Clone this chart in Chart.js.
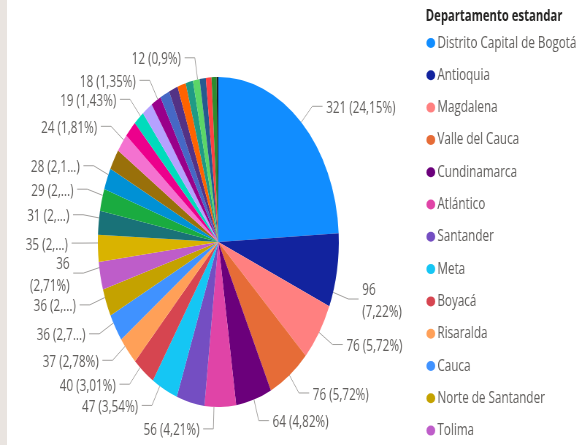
<!DOCTYPE html>
<html>
<head>
<meta charset="utf-8">
<script src="https://cdn.jsdelivr.net/npm/chart.js@4.4.0/dist/chart.umd.min.js"></script>
<style>
  html, body { margin: 0; padding: 0; background: #fff; overflow: hidden; }
  /* the reference is squeezed horizontally, so the whole chart is drawn wide and scaled */
  #wrap { position: absolute; left: 0; top: 0; width: 797px; height: 445px; transform: scaleX(0.7302); transform-origin: 0 0; }
  #strip { position: absolute; left: 0; top: 0; width: 7px; height: 445px; background: #e9e4e0; }
</style>
</head>
<body>
<div id="wrap"><canvas id="pie" width="797" height="445"></canvas></div>
<div id="strip"></div>
<script>
const departamentos = [
    'Distrito Capital de Bogotá', 'Antioquia', 'Magdalena', 'Valle del Cauca', 'Cundinamarca',
    'Atlántico', 'Santander', 'Meta', 'Boyacá', 'Risaralda', 'Cauca', 'Norte de Santander', 'Tolima',
    'Bolívar', 'Caldas', 'Huila', 'Nariño', 'Quindío', 'Córdoba', 'Cesar', 'Casanare', 'Sucre',
    'La Guajira', 'Caquetá', 'Putumayo', 'Chocó', 'Arauca', 'San Andrés', 'Amazonas', 'Guaviare',
    'Vichada', 'Vaupés'
];
const registros = [
    321, 96, 76, 76, 64,
    56, 50, 47, 40, 37, 36, 36, 36,
    35, 31, 29, 28, 27, 24, 22, 19, 19,
    18, 17, 16, 15, 13, 12, 11, 10,
    9, 3
];
const colores = [
    '#118DFF', '#12239E', '#FF8080', '#E66C37', '#6B007B',
    '#E044A7', '#744EC2', '#15C6F4', '#D64550', '#FFA058', '#4092FF', '#C4A200', '#BE5DC9',
    '#D9B300', '#197278', '#1AAB40', '#0091D5', '#99700A', '#F472D0', '#EC008C', '#00DBBC', '#B5A1FF',
    '#99008A', '#4668C5', '#533285', '#FF6300', '#1F9A85', '#5BD667', '#255A8F', '#FF4141',
    '#2E8B2E', '#1E1E1E'
];
// data labels as shown on the chart (null = hidden by Power BI)
const etiquetas = [
    '321 (24,15%)', '96\n(7,22%)', '76 (5,72%)', '76 (5,72%)', '64 (4,82%)',
    '56 (4,21%)', null, '47 (3,54%)', '40 (3,01%)', '37 (2,78%)', '36 (2,7...)', '36 (2,...)', '36\n(2,71%)',
    '35 (2,...)', '31 (2,...)', '29 (2,...)', '28 (2,1...)', null, '24 (1,81%)', null, '19 (1,43%)', null,
    '18 (1,35%)', null, null, null, null, '12 (0,9%)', null, null,
    null, null
];
const tituloLeyenda = 'Departamento estandar';
const itemsLeyenda = 13;

const fuente = "'Segoe UI', 'Open Sans', sans-serif";

// Outside labels with leader lines
const etiquetasPlugin = {
    id: 'etiquetas',
    afterDatasetsDraw(chart) {
        const ctx = chart.ctx;
        const arcs = chart.getDatasetMeta(0).data;
        const lados = { '1': [], '-1': [] };
        arcs.forEach((arc, i) => {
            if (!etiquetas[i]) return;
            const lineas = etiquetas[i].split('\n');
            const mid = (arc.startAngle + arc.endAngle) / 2;
            const lado = Math.cos(mid) > 0.05 ? 1 : -1;
            // Power BI hooks most leaders a bit past the middle of the slice
            let f = lado > 0 ? 0.5 : 0.7;
            if (lineas.length > 1) f = 0.8;
            const a = arc.startAngle + (arc.endAngle - arc.startAngle) * f;
            const c = Math.cos(a), s = Math.sin(a);
            const r = arc.outerRadius;
            lados[lado].push({
                lineas, lado,
                x0: arc.x + c * r, y0: arc.y + s * r,
                x1: arc.x + c * (r + 22), y: arc.y + s * (r + 22),
                media: lineas.length * 11
            });
        });

        ctx.save();
        ctx.font = '16px ' + fuente;
        ctx.textBaseline = 'middle';
        Object.values(lados).forEach(lista => {
            lista.sort((a, b) => a.y - b.y);
            for (let k = 1; k < lista.length; k++) {
                const min = lista[k - 1].y + lista[k - 1].media + lista[k].media - 3;
                if (lista[k].y < min) lista[k].y = min;
            }
            for (let k = lista.length - 1; k >= 0; k--) {
                const tope = k === lista.length - 1 ? 440 - lista[k].media
                    : lista[k + 1].y - lista[k + 1].media - lista[k].media + 3;
                if (lista[k].y > tope) lista[k].y = tope;
            }
            lista.forEach(e => {
                const x2 = e.x1 + e.lado * 14;
                ctx.strokeStyle = '#a19f9d';
                ctx.lineWidth = 1;
                ctx.beginPath();
                ctx.moveTo(e.x0, e.y0);
                ctx.lineTo(e.x1, e.y);
                ctx.lineTo(x2, e.y);
                ctx.stroke();
                ctx.fillStyle = '#605E5C';
                ctx.textAlign = e.lado > 0 ? 'left' : 'right';
                const tx = x2 + e.lado * 5;
                const y0 = e.y + 2 - (e.lineas.length - 1) * 11;
                e.lineas.forEach((t, j) => ctx.fillText(t, tx, y0 + j * 22));
            });
        });
        ctx.restore();
    }
};

// Power BI style legend on the right
const leyendaPlugin = {
    id: 'leyenda',
    afterDraw(chart) {
        const ctx = chart.ctx;
        const ds = chart.data.datasets[0];
        ctx.save();
        ctx.textBaseline = 'middle';
        ctx.textAlign = 'left';
        ctx.fillStyle = '#252423';
        ctx.font = 'bold 15.5px ' + fuente;
        ctx.fillText(tituloLeyenda, 583, 17);
        ctx.font = '16px ' + fuente;
        for (let i = 0; i < itemsLeyenda; i++) {
            const y = 43 + i * 32.3;
            ctx.fillStyle = ds.backgroundColor[i];
            ctx.beginPath();
            ctx.ellipse(590, y, 6, 5, 0, 0, Math.PI * 2);
            ctx.fill();
            ctx.fillStyle = '#605E5C';
            ctx.fillText(chart.data.labels[i], 599, y);
        }
        ctx.restore();
    }
};

const ctx = document.getElementById('pie').getContext('2d');
new Chart(ctx, {
    type: 'pie',
    data: {
        labels: departamentos,
        datasets: [{
            data: registros,
            backgroundColor: colores,
            borderWidth: 0
        }]
    },
    options: {
        responsive: false,
        animation: false,
        devicePixelRatio: 1,
        layout: { padding: { left: 134, right: 333, top: 77, bottom: 38 } },
        plugins: {
            legend: { display: false },
            tooltip: { enabled: false }
        }
    },
    plugins: [etiquetasPlugin, leyendaPlugin]
});
</script>
</body>
</html>
